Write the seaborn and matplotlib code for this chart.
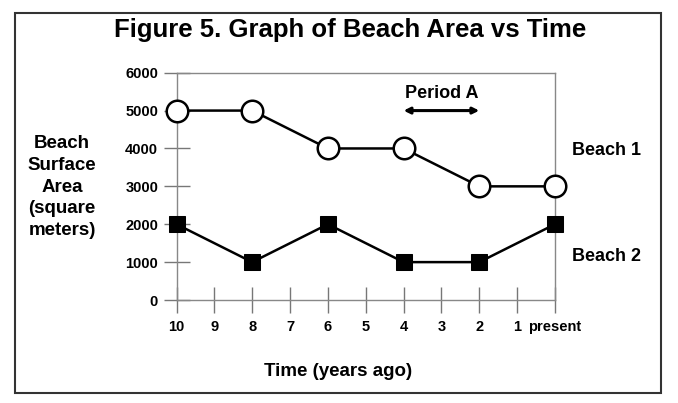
import matplotlib
matplotlib.use("Agg")
import matplotlib.pyplot as plt
import seaborn as sns
from matplotlib.patches import Rectangle

# data
years = [10, 8, 6, 4, 2, 0]
beach1 = [5000, 5000, 4000, 4000, 3000, 3000]
beach2 = [2000, 1000, 2000, 1000, 1000, 2000]
tick_years = [10, 9, 8, 7, 6, 5, 4, 3, 2, 1, 0]
tick_labels = ["10", "9", "8", "7", "6", "5", "4", "3", "2", "1", "present"]
y_ticks = [0, 1000, 2000, 3000, 4000, 5000, 6000]

sns.set_style("white")
plt.rcParams["font.family"] = ["Liberation Sans", "DejaVu Sans"]
plt.rcParams["font.weight"] = "bold"
plt.rcParams["text.color"] = "black"
plt.rcParams["xtick.color"] = "#777777"
plt.rcParams["ytick.color"] = "#777777"
plt.rcParams["xtick.labelcolor"] = "black"
plt.rcParams["ytick.labelcolor"] = "black"

fig = plt.figure(figsize=(6.78, 4.03), dpi=100)
ax = fig.add_axes([176.5 / 678, 1 - 300 / 403, (555 - 176.5) / 678, (300 - 72.7) / 403])

_ = sns.lineplot(x=years, y=beach1, ax=ax, color="black", linewidth=1.8,
                 marker="o", markersize=15.5, markerfacecolor="white",
                 markeredgecolor="black", markeredgewidth=1.8, clip_on=False, zorder=3)
_ = sns.lineplot(x=years, y=beach2, ax=ax, color="black", linewidth=1.8,
                 marker="s", markersize=11.3, markerfacecolor="black",
                 markeredgecolor="black", clip_on=False, zorder=3)

ax.set_xlim(10, 0)
ax.set_ylim(0, 6000)
ax.set_xticks(tick_years)
ax.set_xticklabels(tick_labels)
ax.set_yticks(y_ticks)
ax.tick_params(bottom=True, left=True, direction="inout", length=18.5, width=1,
               labelsize=10.5)
ax.tick_params(axis="x", pad=5.5)
ax.tick_params(axis="y", pad=4)
for lab in ax.get_xticklabels() + ax.get_yticklabels():
    lab.set_fontweight("bold")
for s in ax.spines.values():
    s.set_color("#888888")
    s.set_linewidth(1)
    s.set_visible(True)

# Period A arrow
ax.annotate("", xy=(2, 5000), xytext=(4, 5000),
            arrowprops=dict(arrowstyle="<|-|>", color="black", lw=2.2,
                            mutation_scale=9, shrinkA=0, shrinkB=0))
ax.text(3, 5460, "Period A", ha="center", va="center", fontsize=13, fontweight="bold")

ax.text(-0.45, 3950, "Beach 1", ha="left", va="center", fontsize=13,
        fontweight="bold", clip_on=False)
ax.text(-0.45, 1140, "Beach 2", ha="left", va="center", fontsize=13,
        fontweight="bold", clip_on=False)

_ = fig.text(350 / 678, 1 - 30 / 403, "Figure 5. Graph of Beach Area vs Time",
             ha="center", va="center", fontsize=18.5, fontweight="bold")
_ = fig.text(62 / 678, 1 - 187 / 403, "Beach\nSurface\nArea\n(square\nmeters)",
             ha="center", va="center", fontsize=13.5, fontweight="bold",
             multialignment="center", linespacing=1.36)
_ = fig.text(338 / 678, 1 - 372 / 403, "Time (years ago)",
             ha="center", va="center", fontsize=13.5, fontweight="bold")

fig.patches.append(Rectangle((15 / 678, 10 / 403), 646 / 678, 380 / 403,
                             transform=fig.transFigure, fill=False,
                             edgecolor="#333333", linewidth=1.5))

fig.savefig("out.png", dpi=100)
